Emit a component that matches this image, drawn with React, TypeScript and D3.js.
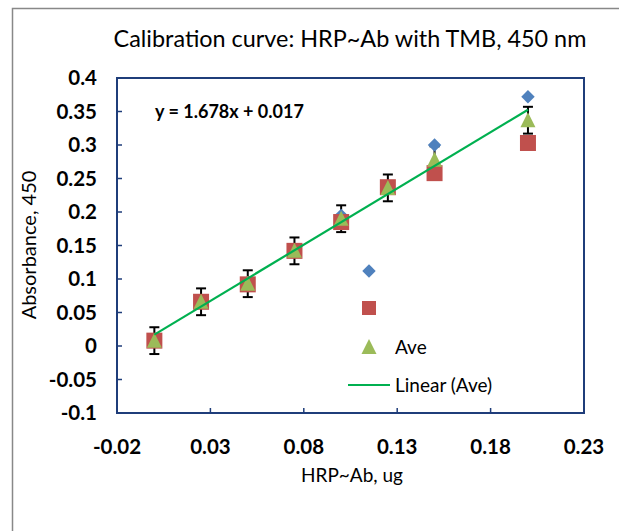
import React from "react";
import * as d3 from "d3";

const xValues = [0, 0.025, 0.05, 0.075, 0.1, 0.125, 0.15, 0.2];
const rep1 = [0.008, 0.066, 0.095, 0.142, 0.195, 0.236, 0.3, 0.372];
const rep2 = [0.008, 0.066, 0.092, 0.142, 0.185, 0.237, 0.258, 0.303];
const ave = [0.008, 0.066, 0.093, 0.142, 0.19, 0.236, 0.278, 0.337];
const errBar = [0.02, 0.02, 0.02, 0.02, 0.02, 0.02, 0.02, 0.02];
const xTicks = [-0.02, 0.03, 0.08, 0.13, 0.18, 0.23];
const yTicks = [-0.1, -0.05, 0, 0.05, 0.1, 0.15, 0.2, 0.25, 0.3, 0.35, 0.4];
const slope = 1.678;
const intercept = 0.017;
const fitRange = [0, 0.2];

const W = 619;
const H = 531;
const L = 117, R = 584, T = 78, B = 413;
const FONT = "Lato, 'Open Sans', sans-serif";
const AXIS = "#1F3D7A";

export default function App() {
  const x = d3.scaleLinear().domain([-0.02, 0.23]).range([L, R]);
  const y = d3.scaleLinear().domain([-0.1, 0.4]).range([B, T]);
  const line = d3.line<number>().x((d) => x(d)).y((d) => y(slope * d + intercept));
  const diamond = d3.symbol().type(d3.symbolDiamond2).size(115)();
  const fmt = (v: number) => (Math.abs(v) < 1e-9 ? "0" : String(+v.toFixed(2)));
  const tri = (cx: number, cy: number) =>
    `M${cx},${cy - 8}L${cx + 7.5},${cy + 7}L${cx - 7.5},${cy + 7}Z`;

  const legY = [271, 308, 347, 385];
  const legX = 369;

  return (
    <svg width={W} height={H} style={{ position: "absolute", left: 0, top: 0, background: "#fff" }}>
      <rect x={12.5} y={8.5} width={700} height={600} fill="#fff" stroke="#888" strokeWidth={1.5} />
      <text x={350} y={47} textAnchor="middle" fontFamily={FONT} fontSize={23.4} fill="#000">
        Calibration curve: HRP~Ab with TMB, 450 nm
      </text>
      <rect x={L} y={T} width={R - L} height={B - T} fill="none" stroke={AXIS} strokeWidth={2} />
      {yTicks.map((t) => (
        <g key={"y" + t}>
          <line x1={L} x2={L + 5} y1={y(t)} y2={y(t)} stroke={AXIS} strokeWidth={1.5} />
          <text x={97} y={y(t) + 7} textAnchor="end" fontFamily={FONT} fontSize={20.5} fontWeight={700} fill="#000">
            {fmt(t)}
          </text>
        </g>
      ))}
      {xTicks.map((t) => (
        <g key={"x" + t}>
          <line x1={x(t)} x2={x(t)} y1={B} y2={B - 5} stroke={AXIS} strokeWidth={1.5} />
          <text x={x(t)} y={454} textAnchor="middle" fontFamily={FONT} fontSize={20.5} fontWeight={700} fill="#000">
            {fmt(t)}
          </text>
        </g>
      ))}
      <text x={352} y={482} textAnchor="middle" fontFamily={FONT} fontSize={19} fill="#000">
        HRP~Ab, ug
      </text>
      <text
        transform={`translate(36,245) rotate(-90)`}
        textAnchor="middle"
        fontFamily={FONT}
        fontSize={20}
        fill="#000"
      >
        Absorbance, 450
      </text>
      <text x={155} y={118} fontFamily={FONT} fontSize={18} fontWeight={700} fill="#000">
        y = 1.678x + 0.017
      </text>
      {xValues.map((xv, i) => (
        <g key={"e" + i} stroke="#000" strokeWidth={2}>
          <line x1={x(xv)} x2={x(xv)} y1={y(ave[i] - errBar[i])} y2={y(ave[i] + errBar[i])} />
          <line x1={x(xv) - 5} x2={x(xv) + 5} y1={y(ave[i] + errBar[i])} y2={y(ave[i] + errBar[i])} />
          <line x1={x(xv) - 5} x2={x(xv) + 5} y1={y(ave[i] - errBar[i])} y2={y(ave[i] - errBar[i])} />
        </g>
      ))}
      {xValues.map((xv, i) => (
        <path key={"d" + i} d={diamond} transform={`translate(${x(xv)},${y(rep1[i])})`} fill="#4F81BD" />
      ))}
      {xValues.map((xv, i) => (
        <rect key={"s" + i} x={x(xv) - 8} y={y(rep2[i]) - 8} width={16} height={16} fill="#C0504D" />
      ))}
      {xValues.map((xv, i) => (
        <path key={"t" + i} d={tri(x(xv), y(ave[i]))} fill="#9BBB59" />
      ))}
      <path d={line(fitRange) || ""} fill="none" stroke="#00B050" strokeWidth={2.2} />
      <path d={diamond} transform={`translate(${legX},${legY[0]})`} fill="#4F81BD" />
      <rect x={legX - 7} y={legY[1] - 7} width={14} height={14} fill="#C0504D" />
      <path d={tri(legX, legY[2])} fill="#9BBB59" />
      <text x={395} y={legY[2] + 7} fontFamily={FONT} fontSize={19} fill="#000">Ave</text>
      <line x1={348} x2={390} y1={legY[3]} y2={legY[3]} stroke="#00B050" strokeWidth={2.2} />
      <text x={395} y={legY[3] + 7} fontFamily={FONT} fontSize={19} fill="#000">Linear (Ave)</text>
    </svg>
  );
}
